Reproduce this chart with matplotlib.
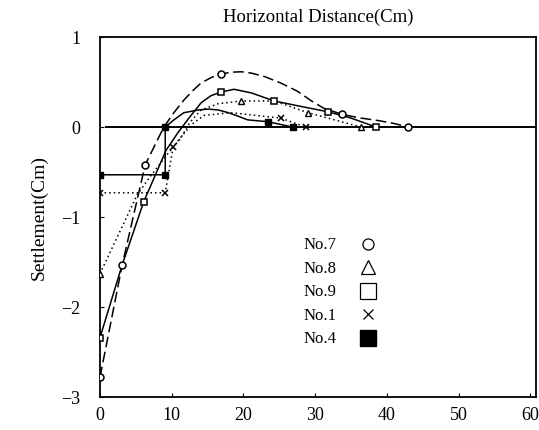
import matplotlib
matplotlib.use("Agg")
import matplotlib.pyplot as plt
from matplotlib.lines import Line2D

plt.rcParams["font.family"] = ["Liberation Serif", "DejaVu Serif"]

# curve traces (distance cm, settlement cm)
no7_x = [0, 3.1, 6.3, 8.9, 10.3, 11.7, 13.0, 14.1, 15.5, 16.9, 18.3, 19.7, 21.1, 23.0, 25.2,
         27.5, 29.5, 31.2, 33.8, 36.4, 39.0, 41.0, 43.0]
no7_y = [-2.78, -1.53, -0.42, 0.0, 0.16, 0.30, 0.41, 0.49, 0.55, 0.59, 0.61, 0.615, 0.60, 0.56, 0.49,
         0.40, 0.29, 0.21, 0.14, 0.10, 0.07, 0.04, 0.0]
no7_mx = [0, 3.1, 6.3, 16.9, 33.8, 43.0]
no7_my = [-2.78, -1.53, -0.42, 0.59, 0.14, 0.0]

no8_x = [0, 5.2, 7.0, 9.7, 11.2, 12.5, 14.1, 16.5, 19.7, 24.3, 29.0, 36.4]
no8_y = [-1.63, -0.75, -0.55, -0.27, -0.13, 0.05, 0.19, 0.26, 0.29, 0.29, 0.16, 0.0]
no8_mx = [0, 19.7, 29.0, 36.4]
no8_my = [-1.63, 0.29, 0.16, 0.0]

no9_x = [0, 3.1, 6.1, 9.2, 10.8, 12.4, 14.1, 15.5, 16.9, 18.7, 21.1, 24.3, 28.0, 31.8, 35.0, 38.5]
no9_y = [-2.34, -1.53, -0.83, -0.26, -0.07, 0.10, 0.27, 0.35, 0.39, 0.42, 0.38, 0.29, 0.23, 0.17, 0.10, 0.0]
no9_mx = [0, 6.1, 16.9, 24.3, 31.8, 38.5]
no9_my = [-2.34, -0.83, 0.39, 0.29, 0.17, 0.0]

no1_x = [0, 9.1, 10.2, 11.3, 12.8, 14.5, 18.3, 25.2, 28.7]
no1_y = [-0.73, -0.73, -0.22, -0.11, 0.03, 0.13, 0.16, 0.10, 0.0]
no1_mx = [0, 9.1, 10.2, 25.2, 28.7]
no1_my = [-0.73, -0.73, -0.22, 0.10, 0.0]

no4_x = [0, 9.1, 9.1, 10.3, 11.7, 13.7, 15.1, 16.5, 17.9, 19.3, 20.6, 23.4, 26.9]
no4_y = [-0.53, -0.53, 0.0, 0.08, 0.16, 0.19, 0.20, 0.19, 0.16, 0.12, 0.08, 0.06, 0.0]
no4_mx = [0, 9.1, 9.1, 23.4, 26.9]
no4_my = [-0.53, -0.53, 0.0, 0.06, 0.0]

legend_labels = ["No.7", "No.8", "No.9", "No.1", "No.4"]

fig = plt.figure(figsize=(5.39, 4.30), dpi=100)
ax = fig.add_axes([0.1855, 0.0767, 0.809, 0.837])

ax.plot([0.8, 60.8], [0, 0], color="black", lw=1.4, zorder=1)

ax.plot(no7_x, no7_y, color="black", lw=1.1, dashes=(7, 3))
ax.plot(no8_x, no8_y, color="black", lw=1.1, ls=(0, (1, 2)))
ax.plot(no9_x, no9_y, color="black", lw=1.1)
ax.plot(no1_x, no1_y, color="black", lw=1.1, ls=(0, (1, 2)))
ax.plot(no4_x, no4_y, color="black", lw=1.1)

ms = dict(ls="none", color="black", markersize=5, zorder=3)
ax.plot(no7_mx, no7_my, marker="o", mfc="white", mew=1.1, **ms)
ax.plot(no8_mx, no8_my, marker="^", mfc="white", mew=1.0, **ms)
ax.plot(no9_mx, no9_my, marker="s", mfc="white", mew=1.1, **ms)
ax.plot(no1_mx, no1_my, marker="x", mew=1.1, **ms)
ax.plot(no4_mx, no4_my, marker="s", mfc="black", **ms)

handles = [
    Line2D([], [], ls="none", marker="o", mfc="white", mec="black", markersize=8, mew=0.9),
    Line2D([], [], ls="none", marker="^", mfc="white", mec="black", markersize=10, mew=0.9),
    Line2D([], [], ls="none", marker="s", mfc="white", mec="black", markersize=12, mew=0.9),
    Line2D([], [], ls="none", marker="x", color="black", markersize=7, mew=0.9),
    Line2D([], [], ls="none", marker="s", mfc="black", mec="black", markersize=11),
]
ax.legend(handles, legend_labels, frameon=False, markerfirst=False, fontsize=12,
          loc="upper left", bbox_to_anchor=(0.432, 0.485), labelspacing=0.45,
          handletextpad=1.4, handlelength=1.0)

ax.set_xlim(0, 60.8)
ax.set_ylim(-3, 1)
ax.set_xticks([0, 10, 20, 30, 40, 50, 60])
ax.set_yticks([1, 0, -1, -2, -3])
ax.set_yticklabels(["1", "0", "\u22121", "\u22122", "\u22123"])
ax.tick_params(direction="in", length=3, labelsize=13)
ax.tick_params(axis="y", pad=14)
ax.tick_params(axis="x", pad=7)
for s in ax.spines.values():
    s.set_linewidth(1.3)

ax.set_title("Horizontal Distance(Cm)", fontsize=13.5, pad=11)
ax.set_ylabel("Settlement(Cm)", fontsize=14, labelpad=10)

fig.savefig("out.png", dpi=100)
